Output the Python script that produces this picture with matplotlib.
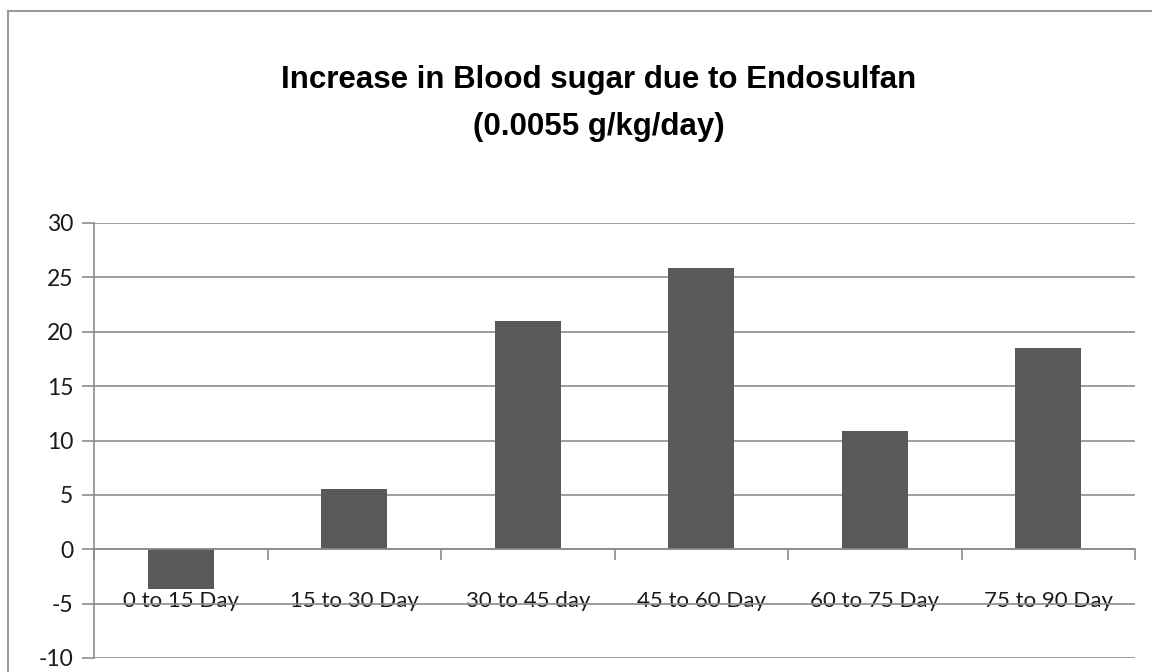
import matplotlib.pyplot as plt
import numpy as np
from matplotlib.patches import Rectangle

categories = ["0 to 15 Day", "15 to 30 Day", "30 to 45 day",
              "45 to 60 Day", "60 to 75 Day", "75 to 90 Day"]
increase = [-3.7, 5.5, 21.0, 25.9, 10.9, 18.5]
y_ticks = [-10, -5, 0, 5, 10, 15, 20, 25, 30]

fig = plt.figure(figsize=(11.52, 6.72), dpi=100)
fig.patch.set_facecolor("white")

# outer chart border
fig.patches.append(Rectangle((8 / 1152, -0.01), 1.1, 0.995 - 8 / 672 + 0.01,
                             transform=fig.transFigure, fill=False,
                             edgecolor="#9a9a9a", linewidth=1.5))

ax = fig.add_axes([94 / 1152, 14 / 672, (1135 - 94) / 1152, (658 - 223) / 672])
x = np.arange(len(categories))
ax.bar(x, increase, width=0.38, color="#595959", zorder=3)

ax.set_xlim(-0.5, len(categories) - 0.5)
ax.set_ylim(-10, 30)
ax.set_yticks(y_ticks)
ax.set_yticklabels([str(v) for v in y_ticks], family="Lato", fontsize=16.5,
                   color="#1a1a1a")
ax.grid(axis="y", color="#8c8c8c", linewidth=1.2, zorder=1)
ax.tick_params(axis="y", length=9, width=1.2, color="#8c8c8c", pad=6)

for s in ["top", "right"]:
    ax.spines[s].set_visible(False)
ax.spines["left"].set_color("#8c8c8c")
ax.spines["left"].set_linewidth(1.2)
ax.spines["bottom"].set_position(("data", 0))
ax.spines["bottom"].set_color("#8c8c8c")
ax.spines["bottom"].set_linewidth(1.2)
ax.spines["bottom"].set_zorder(4)

ax.set_xticks(x)
ax.set_xticklabels(categories, family="Lato", fontsize=16, color="#1a1a1a")
ax.tick_params(axis="x", which="major", length=0, pad=30)
ax.set_xticks(np.arange(len(categories) + 1) - 0.5, minor=True)
ax.tick_params(axis="x", which="minor", length=8, width=1.2,
               color="#8c8c8c", direction="out")

fig.text(599 / 1152, 1 - 80 / 672, "Increase in Blood sugar due to Endosulfan",
         ha="center", va="center", family="Liberation Sans",
         fontweight="bold", fontsize=22.5)
fig.text(599 / 1152, 1 - 127 / 672, "(0.0055 g/kg/day)",
         ha="center", va="center", family="Liberation Sans",
         fontweight="bold", fontsize=22.5)

fig.savefig("out.png", dpi=100)
